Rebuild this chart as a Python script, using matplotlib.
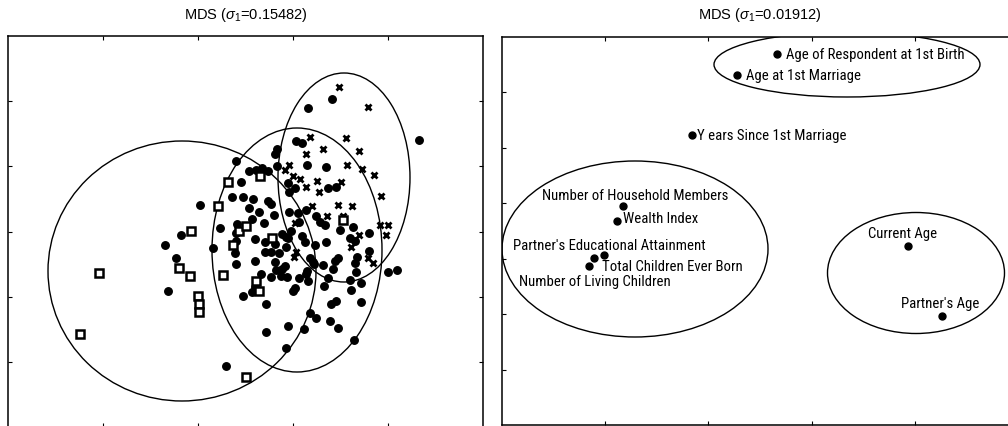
import matplotlib
matplotlib.use('Agg')
import matplotlib.pyplot as plt
from matplotlib.patches import Ellipse
from matplotlib import font_manager
import numpy as np

# ---- left panel: respondents in the first two MDS dimensions ----
# group A (open squares)
sq_x = [-0.17, -0.27, -0.54, -0.06, 0.01, -0.12, -1.46, -0.66, -0.55, -0.47,
        -0.46, -0.46, -1.65, -0.22, 0.01, 0.15, 0.27, 0.11, 0.14, 0.98]
sq_y = [0.50, 0.26, 0.01, 0.01, 0.06, -0.13, -0.41, -0.36, -0.44, -0.64,
        -0.72, -0.80, -1.02, -0.43, -1.45, 0.56, -0.06, -0.49, -0.59, 0.12]

# group B (crosses)
cr_x = [0.94, 1.23, 1.01, 0.65, 1.14, 0.78, 0.61, 1.02, 1.17, 1.29,
        0.44, 0.40, 0.48, 0.55, 0.72, 0.61, 0.74, 0.96, 1.36, 0.93,
        1.07, 0.67, 0.98, 0.82, 0.50, 1.35, 1.43, 1.41, 1.14, 1.06,
        0.51, 0.49, 1.23, 1.28]
cr_y = [1.45, 1.25, 0.94, 0.95, 0.81, 0.83, 0.78, 0.67, 0.63, 0.57,
        0.67, 0.62, 0.56, 0.53, 0.51, 0.45, 0.40, 0.50, 0.36, 0.27,
        0.26, 0.26, 0.16, 0.16, 0.09, 0.07, 0.07, -0.03, -0.03, -0.15,
        -0.20, -0.25, -0.26, -0.31]

# group C (filled dots)
dot_x = [0.87, 0.63, 1.74, 0.51, 0.57, 0.32, 0.30, -0.09, 0.04, 0.11,
         0.17, 0.23, 0.32, 0.62, 0.81, -0.04, 0.43, 0.50, 0.44, 0.83,
         0.91, -0.13, -0.02, 0.08, 0.23, 0.26, -0.45, 0.04, 0.14, 0.29,
         0.07, 0.19, 0.44, 0.53, 0.61, 0.71, 0.75, 0.80, 0.54, -0.25,
         -0.08, -0.09, 0.46, 0.37, 0.41, 0.57, 0.60, 0.81, 0.70, 1.08,
         0.95, 1.24, 1.05, 1.10, 0.10, 0.20, 0.30, 0.43, 0.41, -0.32,
         -0.09, -0.10, 0.20, 0.26, 0.34, 0.30, 0.10, -0.64, -0.80, -0.69,
         -0.09, 1.24, 1.12, 1.10, 0.93, 0.90, 0.78, 0.88, 0.68, 0.65,
         0.69, 0.62, 0.61, 0.54, 0.63, 0.79, 0.83, 1.05, 1.16, 1.06,
         1.16, 1.11, 1.43, 1.52, 0.91, 0.86, 0.85, 0.93, 0.71, 0.65,
         0.59, 0.43, 0.21, 0.21, -0.02, 0.07, 0.10, 0.16, 0.26, 0.31,
         0.37, 0.40, 0.42, 0.36, 0.48, 0.50, -0.77, -0.19, 0.41, 1.09]
dot_y = [1.33, 1.24, 0.92, 0.91, 0.89, 0.83, 0.78, 0.71, 0.61, 0.62,
         0.64, 0.61, 0.66, 0.67, 0.65, 0.50, 0.49, 0.44, 0.40, 0.44,
         0.45, 0.35, 0.35, 0.33, 0.31, 0.28, 0.27, 0.24, 0.20, 0.17,
         0.13, 0.09, 0.20, 0.19, 0.22, 0.16, 0.10, 0.07, 0.10, 0.04,
         0.08, -0.01, 0.01, -0.02, -0.05, -0.04, -0.10, -0.10, -0.13, 0.05,
         0.02, -0.01, -0.06, -0.09, -0.07, -0.10, -0.12, -0.06, -0.15, -0.16,
         -0.09, -0.21, -0.20, -0.20, -0.21, -0.30, -0.29, -0.03, -0.13, -0.26,
         -0.32, -0.19, -0.25, -0.31, -0.26, -0.29, -0.33, -0.37, -0.30, -0.26,
         -0.32, -0.39, -0.42, -0.46, -0.49, -0.54, -0.46, -0.48, -0.51, -0.58,
         -0.70, -0.40, -0.40, -0.38, -0.69, -0.72, -0.89, -0.96, -0.86, -0.81,
         -0.97, -0.94, -1.00, -0.72, -0.64, -0.60, -0.55, -0.42, -0.45, -0.38,
         -0.37, -0.34, -0.45, -0.44, -0.59, -0.56, -0.59, -1.34, -1.16, -1.08]

# group ellipses: centre x, centre y, width, height
left_ell_cx = [-0.63, 0.52, 0.99]
left_ell_cy = [-0.39, -0.18, 0.545]
left_ell_w = [2.68, 1.70, 1.32]
left_ell_h = [2.60, 2.44, 2.09]

# ---- right panel: variables in the MDS space ----
var_names = ['Age of Respondent at 1st Birth', 'Age at 1st Marriage',
             'Y ears Since 1st Marriage', 'Number of Household Members',
             'Wealth Index', "Partner's Educational Attainment",
             'Total Children Ever Born', 'Number of Living Children',
             'Current Age', "Partner's Age"]
var_x = [0.17, -0.23, -0.68, -1.37, -1.43, -1.56, -1.66, -1.71, 1.48, 1.82]
var_y = [1.77, 1.56, 0.96, 0.25, 0.10, -0.24, -0.27, -0.35, -0.15, -0.85]

right_ell_cx = [0.87, -1.25, 1.56]
right_ell_cy = [1.665, -0.18, -0.42]
right_ell_w = [2.66, 2.66, 1.77]
right_ell_h = [0.65, 1.76, 1.21]

titles = [r'MDS ($\sigma_1$=0.15482)', r'MDS ($\sigma_1$=0.01912)']

# label placement relative to each point, in pixels
label_offsets = [(9, 0), (9, 0), (5, 0), (-81, 11), (6, 3),
                 (-91, 10), (8, -8), (-70, -15), (-40, 13), (-41, 13)]

# narrow face for the variable names; fall back to whatever condensed face exists
fonts = font_manager.fontManager.ttflist
names = {f.name for f in fonts}
label_kw = {'family': 'Roboto', 'fontsize': 9}
for cand in ['Roboto Condensed', 'Liberation Sans Narrow', 'Open Sans Condensed']:
    if cand in names:
        label_kw = {'family': cand, 'fontsize': 10.6}
        break
else:
    if any(f.name == 'DejaVu Sans' and f.stretch == 'condensed' for f in fonts):
        label_kw = {'family': 'DejaVu Sans', 'fontstretch': 'condensed', 'fontsize': 9.5}

plt.rcParams['font.family'] = ['Liberation Sans', 'DejaVu Sans']
plt.rcParams['mathtext.fontset'] = 'custom'
plt.rcParams['mathtext.rm'] = 'Liberation Sans'
plt.rcParams['mathtext.it'] = 'Liberation Sans:italic'

fig = plt.figure(figsize=(10.08, 4.27), dpi=100)
ax1 = fig.add_axes([8 / 1008, -1 / 427, 475 / 1008, 391 / 427])
ax2 = fig.add_axes([502 / 1008, 1 / 427, 516 / 1008, 388 / 427])


def style_axes(ax, xlim, ylim, nx, ny):
    ax.set_xlim(*xlim)
    ax.set_ylim(*ylim)
    ax.set_xticks(np.linspace(xlim[0], xlim[1], nx + 1)[1:-1])
    ax.set_yticks(np.linspace(ylim[0], ylim[1], ny + 1)[1:-1])
    ax.tick_params(direction='in', length=3, width=0.8, top=True, right=True,
                   labelbottom=False, labelleft=False)
    for s in ax.spines.values():
        s.set_linewidth(1.1)


# left panel
style_axes(ax1, (-2.37, 2.38), (-1.95, 1.96), 5, 6)
ax1.plot(dot_x, dot_y, 'o', color='black', ms=5.4, zorder=3)
ax1.plot(cr_x, cr_y, 'x', color='black', ms=5, mew=2, zorder=3)
ax1.plot(sq_x, sq_y, 's', mfc='white', mec='black', ms=5.4, mew=1.8, zorder=4)
for cx, cy, w, h in zip(left_ell_cx, left_ell_cy, left_ell_w, left_ell_h):
    ax1.add_patch(Ellipse((cx, cy), w, h, fill=False, ec='black', lw=1.0, zorder=2))
ax1.set_title(titles[0], fontsize=10.5, pad=13)

# right panel
style_axes(ax2, (-2.58, 2.58), (-1.94, 1.94), 5, 7)
ax2.plot(var_x, var_y, 'o', color='black', ms=5, zorder=3)
for name, x, y, off in zip(var_names, var_x, var_y, label_offsets):
    ax2.annotate(name, (x, y), xytext=off, textcoords='offset pixels',
                 ha='left', va='center', **label_kw)
for cx, cy, w, h in zip(right_ell_cx, right_ell_cy, right_ell_w, right_ell_h):
    ax2.add_patch(Ellipse((cx, cy), w, h, fill=False, ec='black', lw=1.0, zorder=2))
ax2.set_title(titles[1], fontsize=10.5, pad=14)

fig.savefig('out.png', dpi=100)
